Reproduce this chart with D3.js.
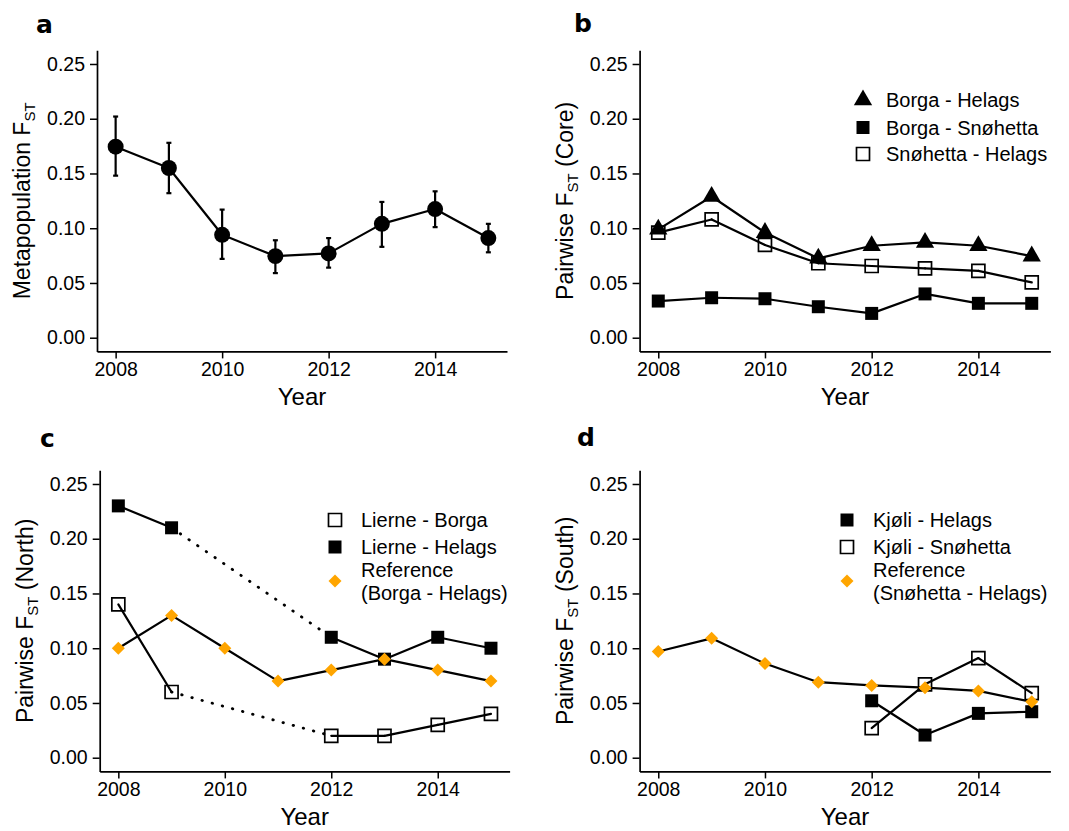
<!DOCTYPE html>
<html>
<head>
<meta charset="utf-8">
<script src="https://cdn.jsdelivr.net/npm/d3@7"></script>
<style>
    body { margin: 0; background: #fff; }
    svg text { font-family: "Liberation Sans", Arial, sans-serif; fill: #000; }
</style>
</head>
<body>
<div id="fst-chart"></div>
<script>
// years on the x axis
const years = [2008, 2009, 2010, 2011, 2012, 2013, 2014, 2015];
const xTicks = [2008, 2010, 2012, 2014];
const yTicks = [0, 0.05, 0.10, 0.15, 0.20, 0.25];

// a: metapopulation Fst with error bars
const metaFst = [0.1745, 0.155, 0.094, 0.0745, 0.077, 0.104, 0.1175, 0.091];
const metaLow = [0.148, 0.132, 0.072, 0.059, 0.064, 0.083, 0.101, 0.078];
const metaHigh = [0.202, 0.178, 0.117, 0.089, 0.091, 0.124, 0.1337, 0.104];

// b: core pairs
const borgaHelags = [0.099, 0.129, 0.096, 0.0725, 0.084, 0.087, 0.084, 0.0745];
const borgaSnohetta = [0.0335, 0.0365, 0.0356, 0.0283, 0.0222, 0.040, 0.0314, 0.0314];
const snohettaHelags = [0.096, 0.108, 0.0847, 0.068, 0.0655, 0.0633, 0.061, 0.0505];

// c: north pairs (no samples 2010-2011)
const northYears = [2008, 2009, 2012, 2013, 2014, 2015];
const lierneBorga = [0.14, 0.06, 0.02, 0.02, 0.03, 0.04];
const lierneHelags = [0.23, 0.21, 0.11, 0.09, 0.11, 0.10];
const refBorgaHelags = [0.10, 0.13, 0.10, 0.07, 0.08, 0.09, 0.08, 0.07];

// d: south pairs
const southYears = [2012, 2013, 2014, 2015];
const kjoliHelags = [0.052, 0.0207, 0.0405, 0.042];
const kjoliSnohetta = [0.027, 0.067, 0.091, 0.059];
const refSnohettaHelags = [0.097, 0.109, 0.086, 0.069, 0.066, 0.064, 0.061, 0.051];

const width = 1069;
const height = 831;
const orange = '#FFA500';

let svg = d3.select('#fst-chart').append('svg')
    .attr('width', width)
    .attr('height', height);

function zip(xs, ys) {
    return xs.map((year, i) => ({ year: year, value: ys[i] }));
}

function makePanel(opts) {
    let x = d3.scaleLinear().domain([2007.65, 2015.35]).range(opts.xRange);
    let y = d3.scaleLinear().domain([-0.0125, 0.2625]).range(opts.yRange);
    let g = svg.append('g');

    let yAxis = g.append('g')
        .attr('transform', `translate(${opts.xRange[0]},0)`)
        .call(d3.axisLeft(y).tickValues(yTicks).tickFormat(d3.format('.2f')).tickSize(7).tickSizeOuter(0).tickPadding(5));
    let xAxis = g.append('g')
        .attr('transform', `translate(0,${opts.yRange[0]})`)
        .call(d3.axisBottom(x).tickValues(xTicks).tickFormat(d3.format('d')).tickSize(7).tickSizeOuter(0).tickPadding(4));

    [xAxis, yAxis].forEach(a => {
        a.select('.domain').attr('stroke', '#000').attr('stroke-width', 1.7);
        a.selectAll('.tick line').attr('stroke', '#000').attr('stroke-width', 1.5);
        a.selectAll('.tick text').attr('font-size', 19.5).attr('fill', '#000')
            .style('font-family', '"Liberation Sans", Arial, sans-serif');
    });

    let cx = (opts.xRange[0] + opts.xRange[1]) / 2;
    let cy = (opts.yRange[0] + opts.yRange[1]) / 2;

    g.append('text')
        .attr('x', cx)
        .attr('y', opts.yRange[0] + 54)
        .attr('text-anchor', 'middle')
        .attr('font-size', 24)
        .text('Year');

    let title = g.append('text')
        .attr('transform', `translate(${opts.titleX},${cy}) rotate(-90)`)
        .attr('text-anchor', 'middle')
        .attr('font-size', 23);
    title.append('tspan').text(opts.yTitle[0]);
    title.append('tspan').attr('font-size', 15).attr('dy', 5).text('ST');
    title.append('tspan').attr('dy', -5).text(opts.yTitle[1]);

    g.append('text')
        .attr('x', opts.labelPos[0])
        .attr('y', opts.labelPos[1])
        .attr('font-size', 25)
        .attr('font-weight', 'bold')
        .style('font-family', '"DejaVu Sans", sans-serif')
        .text(opts.label);

    return { x: x, y: y, g: g };
}

function drawLine(p, pts) {
    // consecutive years are solid, gaps in sampling are dotted
    for (let i = 1; i < pts.length; i++) {
        let gap = pts[i].year - pts[i - 1].year > 1;
        p.g.append('line')
            .attr('x1', p.x(pts[i - 1].year))
            .attr('y1', p.y(pts[i - 1].value))
            .attr('x2', p.x(pts[i].year))
            .attr('y2', p.y(pts[i].value))
            .attr('stroke', '#000')
            .attr('stroke-width', gap ? 2.8 : 2.2)
            .attr('stroke-linecap', 'round')
            .attr('stroke-dasharray', gap ? '0.5,10' : null);
    }
}

const markers = {
    circle: d3.symbol().type(d3.symbolCircle).size(200)(),
    triangle: d3.symbol().type(d3.symbolTriangle).size(145)(),
    square: 'M-6.5,-6.5H6.5V6.5H-6.5Z',
    open: 'M-6.5,-6.5H6.5V6.5H-6.5Z',
    diamond: 'M0,-6.5L6.5,0L0,6.5L-6.5,0Z'
};

function markerStyle(sel, kind) {
    sel.attr('d', markers[kind])
        .attr('fill', kind === 'open' ? 'none' : (kind === 'diamond' ? orange : '#000'))
        .attr('stroke', kind === 'open' ? '#000' : 'none')
        .attr('stroke-width', 1.7);
}

function drawPoints(p, pts, kind) {
    p.g.selectAll(null).data(pts).enter().append('path')
        .attr('transform', d => `translate(${p.x(d.year)},${p.y(d.value)})`)
        .call(markerStyle, kind);
}

function drawLegend(items, sx, tx) {
    items.forEach(item => {
        svg.append('path')
            .attr('transform', `translate(${sx},${item.y})`)
            .call(markerStyle, item.kind);
        item.text.forEach((t, i) => {
            svg.append('text')
                .attr('x', tx)
                .attr('y', item.textY[i] + 7)
                .attr('font-size', 20)
                .text(t);
        });
    });
}

// panel a
let pa = makePanel({
    xRange: [97, 507], yRange: [351.4, 50.3], titleX: 30,
    yTitle: ['Metapopulation F', ''], label: 'a', labelPos: [36, 33]
});
let metaPts = years.map((year, i) => ({ year: year, value: metaFst[i], low: metaLow[i], high: metaHigh[i] }));
drawLine(pa, metaPts);
metaPts.forEach(d => {
    let xx = pa.x(d.year);
    pa.g.append('line').attr('x1', xx).attr('x2', xx)
        .attr('y1', pa.y(d.low)).attr('y2', pa.y(d.high))
        .attr('stroke', '#000').attr('stroke-width', 2.2);
    [d.low, d.high].forEach(v => {
        pa.g.append('line').attr('x1', xx - 2.5).attr('x2', xx + 2.5)
            .attr('y1', pa.y(v)).attr('y2', pa.y(v))
            .attr('stroke', '#000').attr('stroke-width', 2.2);
    });
});
drawPoints(pa, metaPts, 'circle');

// panel b
let pb = makePanel({
    xRange: [639.6, 1050.4], yRange: [351.4, 50.3], titleX: 573,
    yTitle: ['Pairwise F', ' (Core)'], label: 'b', labelPos: [574, 32]
});
[borgaHelags, borgaSnohetta, snohettaHelags].forEach(s => drawLine(pb, zip(years, s)));
drawPoints(pb, zip(years, borgaHelags), 'triangle');
drawPoints(pb, zip(years, borgaSnohetta), 'square');
drawPoints(pb, zip(years, snohettaHelags), 'open');
drawLegend([
    { kind: 'triangle', y: 100, text: ['Borga - Helags'], textY: [100] },
    { kind: 'square', y: 127.5, text: ['Borga - Snøhetta'], textY: [127.5] },
    { kind: 'open', y: 154, text: ['Snøhetta - Helags'], textY: [154] }
], 863, 886);

// panel c
let pc = makePanel({
    xRange: [99.7, 509.6], yRange: [771.4, 470.3], titleX: 33,
    yTitle: ['Pairwise F', ' (North)'], label: 'c', labelPos: [40, 447]
});
drawLine(pc, zip(years, refBorgaHelags));
drawLine(pc, zip(northYears, lierneBorga));
drawLine(pc, zip(northYears, lierneHelags));
drawPoints(pc, zip(northYears, lierneBorga), 'open');
drawPoints(pc, zip(northYears, lierneHelags), 'square');
drawPoints(pc, zip(years, refBorgaHelags), 'diamond');
drawLegend([
    { kind: 'open', y: 520, text: ['Lierne - Borga'], textY: [520] },
    { kind: 'square', y: 547, text: ['Lierne - Helags'], textY: [547] },
    { kind: 'diamond', y: 581, text: ['Reference', '(Borga - Helags)'], textY: [570, 593] }
], 335, 361);

// panel d
let pd = makePanel({
    xRange: [639.6, 1050.4], yRange: [771.4, 470.3], titleX: 573,
    yTitle: ['Pairwise F', ' (South)'], label: 'd', labelPos: [577, 446]
});
drawLine(pd, zip(years, refSnohettaHelags));
drawLine(pd, zip(southYears, kjoliHelags));
drawLine(pd, zip(southYears, kjoliSnohetta));
drawPoints(pd, zip(southYears, kjoliHelags), 'square');
drawPoints(pd, zip(southYears, kjoliSnohetta), 'open');
drawPoints(pd, zip(years, refSnohettaHelags), 'diamond');
drawLegend([
    { kind: 'square', y: 520, text: ['Kjøli - Helags'], textY: [520] },
    { kind: 'open', y: 547, text: ['Kjøli - Snøhetta'], textY: [547] },
    { kind: 'diamond', y: 581, text: ['Reference', '(Snøhetta - Helags)'], textY: [570, 593] }
], 847, 873);
</script>
</body>
</html>
